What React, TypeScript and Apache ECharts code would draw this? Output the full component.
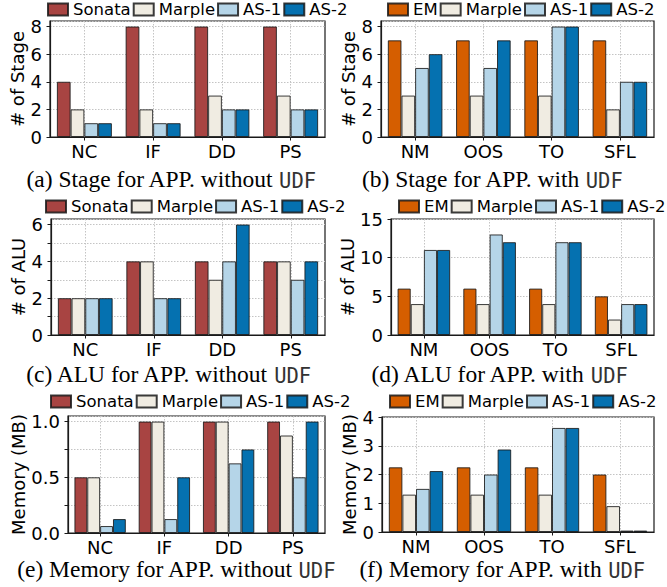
import { useEffect, useRef } from 'react';
import * as echarts from 'echarts';

// ---------- data ----------
const appsNoUdf = ['NC', 'IF', 'DD', 'PS'];
const appsUdf = ['NM', 'OOS', 'TO', 'SFL'];

const legendNoUdf = ['Sonata', 'Marple', 'AS-1', 'AS-2'];
const legendUdf = ['EM', 'Marple', 'AS-1', 'AS-2'];

// (a) Stage, without UDF
const stageSonata = [4, 8, 8, 8];
const stageMarpleA = [2, 2, 3, 3];
const stageAs1A = [1, 1, 2, 2];
const stageAs2A = [1, 1, 2, 2];
// (b) Stage, with UDF
const stageEm = [7, 7, 7, 7];
const stageMarpleB = [3, 3, 3, 2];
const stageAs1B = [5, 5, 8, 4];
const stageAs2B = [6, 7, 8, 4];
// (c) ALU, without UDF
const aluSonata = [2, 4, 4, 4];
const aluMarpleC = [2, 4, 3, 4];
const aluAs1C = [2, 2, 4, 3];
const aluAs2C = [2, 2, 6, 4];
// (d) ALU, with UDF
const aluEm = [6, 6, 6, 5];
const aluMarpleD = [4, 4, 4, 2];
const aluAs1D = [11, 13, 12, 4];
const aluAs2D = [11, 12, 12, 4];
// (e) Memory (MB), without UDF
const memSonata = [0.5, 1, 1, 1];
const memMarpleE = [0.5, 1, 1, 0.875];
const memAs1E = [0.0625, 0.125, 0.625, 0.5];
const memAs2E = [0.125, 0.5, 0.75, 1];
// (f) Memory (MB), with UDF
const memEm = [2.25, 2.25, 2.25, 2.0];
const memMarpleF = [1.3, 1.3, 1.3, 0.9];
const memAs1F = [1.5, 2.0, 3.62, 0.05];
const memAs2F = [2.12, 2.87, 3.62, 0.05];

const yNames = ['# of Stage', '# of Stage', '# of ALU', '# of ALU', 'Memory (MB)', 'Memory (MB)'];
const captions = [
  '(a) Stage for APP. without ',
  '(b) Stage for APP. with ',
  '(c) ALU for APP. without ',
  '(d) ALU for APP. with ',
  '(e) Memory for APP. without ',
  '(f) Memory for APP. with ',
];
const captionCode = 'UDF';

// ---------- styles ----------
const COLORS: Record<string, string> = {
  Sonata: '#A84442',
  EM: '#D55E00',
  Marple: '#F0ECE2',
  'AS-1': '#B5D5E8',
  'AS-2': '#0571B0',
};
const SANS = 'DejaVu Sans';
const TICK_FS = 18;
const NAME_FS = 18;
const LEGEND_FS = 16.5;

const panels = [
  { cats: appsNoUdf, names: legendNoUdf, vals: [stageSonata, stageMarpleA, stageAs1A, stageAs2A], max: 8.4, interval: 2, step: 2, dec: 0,
    grid: { left: 50, top: 21, width: 275, height: 116 }, legend: { left: 47, top: 1 }, nameGap: 14, cap: [171, 179] },
  { cats: appsUdf, names: legendUdf, vals: [stageEm, stageMarpleB, stageAs1B, stageAs2B], max: 8.4, interval: 2, step: 2, dec: 0,
    grid: { left: 381, top: 21, width: 273, height: 116 }, legend: { left: 387, top: 1 }, nameGap: 16, cap: [492, 179] },
  { cats: appsNoUdf, names: legendNoUdf, vals: [aluSonata, aluMarpleC, aluAs1C, aluAs2C], max: 6.3, interval: 1, step: 2, dec: 0,
    grid: { left: 51, top: 219, width: 274, height: 116 }, legend: { left: 45, top: 198 }, nameGap: 15, cap: [168, 374] },
  { cats: appsUdf, names: legendUdf, vals: [aluEm, aluMarpleD, aluAs1D, aluAs2D], max: 15, interval: 5, step: 5, dec: 0,
    grid: { left: 391, top: 219, width: 263, height: 116 }, legend: { left: 398, top: 198 }, nameGap: 27, cap: [499, 374] },
  { cats: appsNoUdf, names: legendNoUdf, vals: [memSonata, memMarpleE, memAs1E, memAs2E], max: 1.05, interval: 0.25, step: 0.5, dec: 1,
    grid: { left: 68, top: 416, width: 257, height: 117 }, legend: { left: 50, top: 393 }, nameGap: 32, cap: [176, 569] },
  { cats: appsUdf, names: legendUdf, vals: [memEm, memMarpleF, memAs1F, memAs2F], max: 4, interval: 1, step: 1, dec: 0,
    grid: { left: 382, top: 417, width: 272, height: 115 }, legend: { left: 389, top: 393 }, nameGap: 18, cap: [502, 569] },
];

export default function App() {
  const ref = useRef<HTMLDivElement>(null);

  useEffect(() => {
    document.body.style.margin = '0';
    if (!ref.current) return;
    const chart = echarts.init(ref.current, null, { renderer: 'svg' });

    const grid: any[] = [];
    const xAxis: any[] = [];
    const yAxis: any[] = [];
    const legend: any[] = [];
    const series: any[] = [];
    const graphic: any[] = [];

    const gridLine = { show: true, lineStyle: { color: '#c4c4c4', width: 1, type: [1.5, 1.5] } };

    panels.forEach((p, i) => {
      grid.push({ ...p.grid, show: true, borderColor: '#1a1a1a', borderWidth: 1.2, backgroundColor: 'transparent' });
      xAxis.push({
        type: 'category',
        gridIndex: i,
        data: p.cats,
        boundaryGap: true,
        axisLine: { show: true, lineStyle: { color: '#1a1a1a', width: 1.2 } },
        axisTick: { show: true, alignWithLabel: true, length: 3.5, lineStyle: { color: '#1a1a1a' } },
        axisLabel: { color: '#000', fontFamily: SANS, fontSize: TICK_FS, margin: 5 },
        splitLine: { ...gridLine, alignWithLabel: true },
      });
      const step = p.step;
      const dec = p.dec;
      yAxis.push({
        type: 'value',
        gridIndex: i,
        min: 0,
        max: p.max,
        interval: p.interval,
        name: yNames[i],
        nameLocation: 'middle',
        nameGap: p.nameGap,
        nameTextStyle: { color: '#000', fontFamily: SANS, fontSize: NAME_FS },
        axisLine: { show: true, lineStyle: { color: '#1a1a1a', width: 1.2 } },
        axisTick: { show: true, length: 3.5, lineStyle: { color: '#1a1a1a' } },
        axisLabel: {
          color: '#000',
          fontFamily: SANS,
          fontSize: TICK_FS,
          margin: 8,
          showMaxLabel: p.max % step === 0,
          formatter: (v: number) => {
            const r = v / step;
            if (Math.abs(r - Math.round(r)) > 1e-6) return '';
            return v.toFixed(dec);
          },
        },
        splitLine: gridLine,
      });
      legend.push({
        data: p.names,
        left: p.legend.left,
        top: p.legend.top,
        orient: 'horizontal',
        itemWidth: 20,
        itemHeight: 12,
        itemGap: 2,
        icon: 'rect',
        padding: 0,
        selectedMode: false,
        textStyle: { color: '#000', fontFamily: SANS, fontSize: LEGEND_FS },
      });
      p.names.forEach((name, k) => {
        series.push({
          type: 'bar',
          name,
          xAxisIndex: i,
          yAxisIndex: i,
          data: p.vals[k],
          barWidth: '20%',
          barGap: '0%',
          itemStyle: { color: COLORS[name], borderColor: 'rgba(25,25,25,0.85)', borderWidth: 1 },
          emphasis: { disabled: true },
        });
      });
      graphic.push({
        type: 'text',
        x: p.cap[0],
        y: p.cap[1],
        style: {
          text: `{s|${captions[i]}}{m|${captionCode}}`,
          rich: {
            s: { fontFamily: 'Liberation Serif', fontSize: 23.5, lineHeight: 24, verticalAlign: 'bottom', fill: '#000' },
            m: { fontFamily: 'DejaVu Sans Mono', fontSize: 20.5, lineHeight: 21, verticalAlign: 'bottom', fill: '#333' },
          },
          textAlign: 'center',
          textVerticalAlign: 'middle',
        },
      });
    });

    chart.setOption({
      animation: false,
      grid,
      xAxis,
      yAxis,
      legend,
      series,
      graphic,
    });

    return () => chart.dispose();
  }, []);

  return <div ref={ref} style={{ width: 667, height: 587 }} />;
}
